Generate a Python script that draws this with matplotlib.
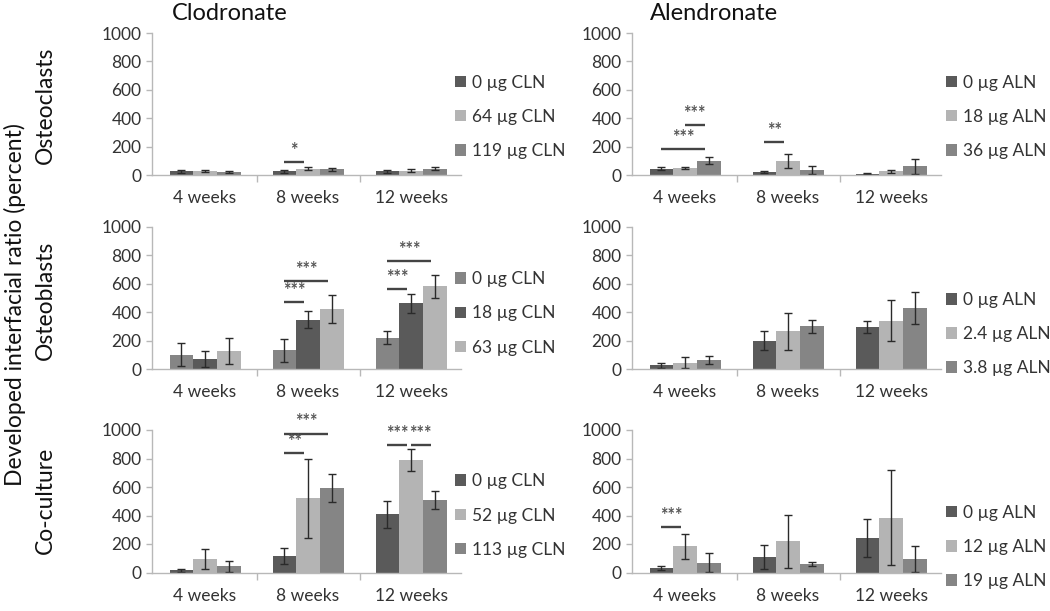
import matplotlib
matplotlib.use("Agg")
import matplotlib.pyplot as plt
import numpy as np

plt.rcParams['font.family'] = ['Lato', 'DejaVu Sans']

weeks = ["4 weeks", "8 weeks", "12 weeks"]

DARK, LIGHT, MED = "#5a5a5a", "#b4b4b4", "#858585"

# ---- Clodronate / Osteoclasts
cln_oc_labels = ["0 µg CLN", "64 µg CLN", "119 µg CLN"]
cln_oc_vals = [[25, 25, 25], [30, 45, 30], [20, 40, 45]]
cln_oc_err = [[8, 8, 8], [8, 8, 10], [8, 10, 12]]
cln_oc_colors = [DARK, LIGHT, MED]
cln_oc_sig = [(1, 0, 1, 90, "*")]

# ---- Alendronate / Osteoclasts
aln_oc_labels = ["0 µg ALN", "18 µg ALN", "36 µg ALN"]
aln_oc_vals = [[45, 20, 10], [50, 100, 25], [100, 35, 60]]
aln_oc_err = [[8, 6, 5], [8, 50, 8], [25, 30, 55]]
aln_oc_colors = [DARK, LIGHT, MED]
aln_oc_sig = [(0, 0, 2, 180, "***"), (0, 1, 2, 350, "***"), (1, 0, 1, 235, "**")]

# ---- Clodronate / Osteoblasts
cln_ob_labels = ["0 µg CLN", "18 µg CLN", "63 µg CLN"]
cln_ob_vals = [[100, 130, 220], [70, 345, 460], [125, 420, 580]]
cln_ob_err = [[80, 80, 45], [55, 60, 65], [90, 100, 80]]
cln_ob_colors = [MED, DARK, LIGHT]
cln_ob_sig = [(1, 0, 1, 470, "***"), (1, 0, 2, 620, "***"),
              (2, 0, 1, 560, "***"), (2, 0, 2, 760, "***")]

# ---- Alendronate / Osteoblasts
aln_ob_labels = ["0 µg ALN", "2.4 µg ALN", "3.8 µg ALN"]
aln_ob_vals = [[25, 200, 295], [45, 265, 340], [65, 300, 430]]
aln_ob_err = [[15, 68, 45], [40, 130, 145], [28, 45, 112]]
aln_ob_colors = [DARK, LIGHT, MED]
aln_ob_sig = []

# ---- Clodronate / Co-culture
cln_cc_labels = ["0 µg CLN", "52 µg CLN", "113 µg CLN"]
cln_cc_vals = [[15, 115, 410], [95, 520, 790], [45, 595, 510]]
cln_cc_err = [[10, 55, 95], [68, 275, 78], [38, 98, 62]]
cln_cc_colors = [DARK, LIGHT, MED]
cln_cc_sig = [(1, 0, 1, 840, "**"), (1, 0, 2, 975, "***"),
              (2, 0, 1, 895, "***"), (2, 1, 2, 895, "***")]

# ---- Alendronate / Co-culture
aln_cc_labels = ["0 µg ALN", "12 µg ALN", "19 µg ALN"]
aln_cc_vals = [[30, 110, 240], [185, 220, 385], [70, 60, 95]]
aln_cc_err = [[15, 85, 133], [88, 185, 335], [65, 15, 88]]
aln_cc_colors = [DARK, LIGHT, MED]
aln_cc_sig = [(0, 0, 1, 320, "***")]

W, H = 1050, 611
fig = plt.figure(figsize=(W / 100, H / 100), dpi=100)

def px_axes(left, top, right, bottom):
    return fig.add_axes([left / W, 1 - bottom / H, (right - left) / W, (bottom - top) / H])

BW = 0.23
SPINE = "#b8b8b8"
TXT = "#333333"

def draw(ax, labels, vals, errs, colors, sig, leg_x, leg_y):
    x = np.arange(len(weeks))
    offs = [-BW, 0, BW]
    for k in range(3):
        ax.bar(x + offs[k], vals[k], BW, color=colors[k], label=labels[k],
               yerr=errs[k], error_kw=dict(ecolor="#2a2a2a", elinewidth=1.0, capsize=3, capthick=1.0))
    for g, i, j, yv, s in sig:
        x1, x2 = g + offs[i] + 0.0, g + offs[j] - 0.04
        ax.plot([x1, x2], [yv, yv], color="#444444", lw=1.7, solid_capstyle="butt")
        ax.text((x1 + x2) / 2, yv + 22, s, ha="center", va="bottom", fontsize=13,
                fontweight="bold", color="#555555")
    ax.set_xlim(-0.515, 2.485)
    ax.set_ylim(0, 1000)
    ax.set_yticks([0, 200, 400, 600, 800, 1000])
    ax.tick_params(axis="y", labelsize=12.5, colors=SPINE, labelcolor=TXT, length=4, width=1)
    ax.set_xticks(x)
    ax.set_xticklabels(weeks)
    ax.tick_params(axis="x", length=0, labelsize=12.5, labelcolor=TXT, pad=11)
    ax.set_xticks([0.5, 1.5], minor=True)
    ax.tick_params(axis="x", which="minor", length=5, width=1, colors=SPINE)
    for s in ["top", "right"]:
        ax.spines[s].set_visible(False)
    ax.spines["left"].set_color(SPINE)
    ax.spines["bottom"].set_color(SPINE)
    ax.spines["left"].set_linewidth(1)
    ax.spines["bottom"].set_linewidth(1)
    ax.legend(loc="center left", bbox_to_anchor=(leg_x, leg_y), frameon=False,
              fontsize=12.5, handlelength=0.65, handleheight=0.65, handletextpad=0.35,
              labelspacing=1.05, borderpad=0, borderaxespad=0, labelcolor=TXT)

ax1 = px_axes(152, 33, 461, 175)
ax2 = px_axes(632, 33, 941, 175)
ax3 = px_axes(152, 226.5, 461, 369)
ax4 = px_axes(632, 226.5, 941, 369)
ax5 = px_axes(152, 430, 461, 572.5)
ax6 = px_axes(632, 430, 941, 572.5)

draw(ax1, cln_oc_labels, cln_oc_vals, cln_oc_err, cln_oc_colors, cln_oc_sig, 0.98, 0.41)
draw(ax2, aln_oc_labels, aln_oc_vals, aln_oc_err, aln_oc_colors, aln_oc_sig, 1.016, 0.41)
draw(ax3, cln_ob_labels, cln_ob_vals, cln_ob_err, cln_ob_colors, cln_ob_sig, 0.98, 0.39)
draw(ax4, aln_ob_labels, aln_ob_vals, aln_ob_err, aln_ob_colors, aln_ob_sig, 1.016, 0.245)
draw(ax5, cln_cc_labels, cln_cc_vals, cln_cc_err, cln_cc_colors, cln_cc_sig, 0.98, 0.40)
draw(ax6, aln_cc_labels, aln_cc_vals, aln_cc_err, aln_cc_colors, aln_cc_sig, 1.016, 0.18)

fig.text(172 / W, 1 - 14 / H, "Clodronate", fontsize=17, ha="left", va="center", color="#111111")
fig.text(650 / W, 1 - 14 / H, "Alendronate", fontsize=17, ha="left", va="center", color="#111111")

fig.text(45 / W, 1 - 105 / H, "Osteoclasts", fontsize=16.5, rotation=90, ha="center", va="center", color="#111111")
fig.text(45 / W, 1 - 300 / H, "Osteoblasts", fontsize=16.5, rotation=90, ha="center", va="center", color="#111111")
fig.text(45 / W, 1 - 500 / H, "Co-culture", fontsize=16.5, rotation=90, ha="center", va="center", color="#111111")
fig.text(15 / W, 1 - 305 / H, "Developed interfacial ratio (percent)", fontsize=16.5, rotation=90,
         ha="center", va="center", color="#111111")

fig.savefig("out.png", dpi=100, facecolor="white")
